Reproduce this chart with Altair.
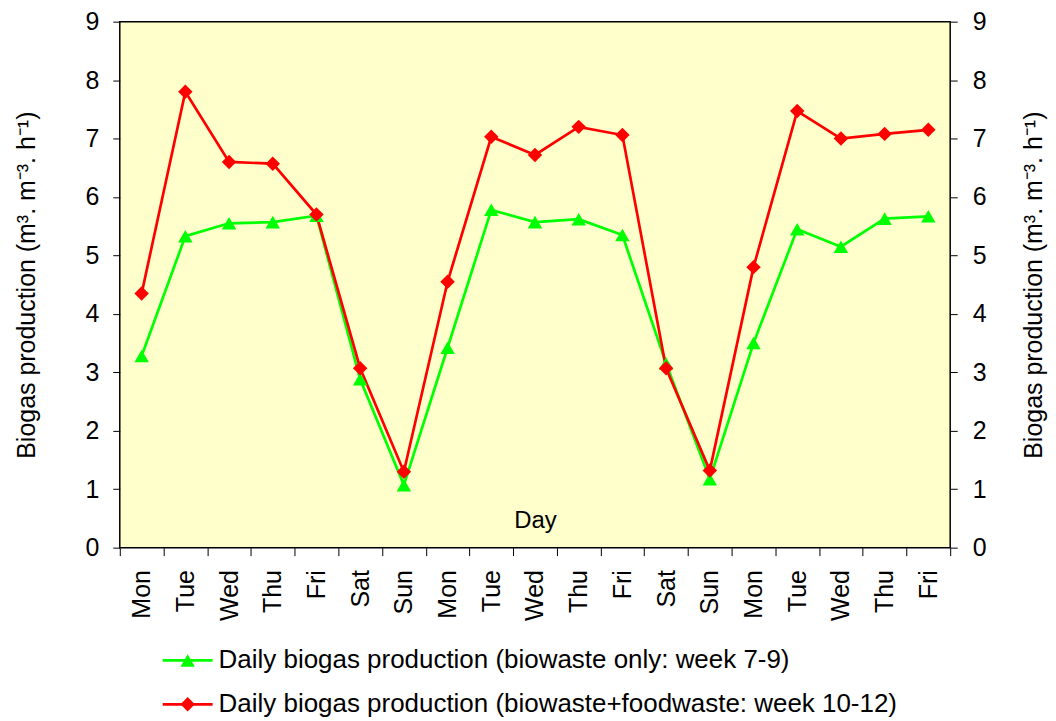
import json
import altair as alt
import pandas as pd

days = ["Mon", "Tue", "Wed", "Thu", "Fri", "Sat", "Sun",
        "Mon", "Tue", "Wed", "Thu", "Fri", "Sat", "Sun",
        "Mon", "Tue", "Wed", "Thu", "Fri"]
bio_only = [3.28, 5.33, 5.55, 5.57, 5.68, 2.88, 1.07,
            3.42, 5.78, 5.57, 5.62, 5.35, 3.15, 1.17,
            3.50, 5.45, 5.15, 5.63, 5.67]
bio_food = [4.35, 7.80, 6.60, 6.57, 5.70, 3.07, 1.30,
            4.55, 7.03, 6.72, 7.20, 7.06, 3.07, 1.32,
            4.80, 7.47, 7.00, 7.08, 7.15]
series_names = ["Daily biogas production (biowaste only: week 7-9)",
                "Daily biogas production (biowaste+foodwaste: week 10-12)"]
colors = ["#00FF00", "#FF0000"]
shapes = ["triangle-up", "diamond"]
y_ticks = list(range(10))

rows = []
for i, d in enumerate(days):
    rows.append({"idx": i, "day": d, "series": series_names[0], "value": bio_only[i]})
    rows.append({"idx": i, "day": d, "series": series_names[1], "value": bio_food[i]})
df = pd.DataFrame(rows)

FONT = "Liberation Sans"
FS = 25
label_expr = json.dumps(days) + "[datum.value]"
y_title = "Biogas production (m\u00b3. m\u207b\u00b3. h\u207b\u00b9)"

color = alt.Color("series:N", scale=alt.Scale(domain=series_names, range=colors), legend=None)
shape = alt.Shape("series:N", scale=alt.Scale(domain=series_names, range=shapes), legend=None)

x = alt.X("idx:O",
          scale=alt.Scale(type="band", paddingInner=0, paddingOuter=0),
          axis=alt.Axis(title="Day", labelExpr=label_expr, labelAngle=270,
                        tickBand="extent", tickSize=8, tickColor="black",
                        domain=False, labelPadding=14, labelFontSize=FS,
                        titleFontSize=24, titleFontWeight="normal",
                        titleY=-20, titleBaseline="alphabetic"))

y_left = alt.Y("value:Q", scale=alt.Scale(domain=[0, 9], nice=False),
               axis=alt.Axis(title=y_title, values=y_ticks, orient="left",
                             tickSize=7, tickColor="black", domain=False,
                             labelFontSize=FS, titleFontSize=FS,
                             titleFontWeight="normal", titlePadding=46,
                             labelPadding=14, grid=False))
y_right = alt.Y("value:Q", scale=alt.Scale(domain=[0, 9], nice=False),
                axis=alt.Axis(title=y_title, values=y_ticks, orient="right",
                              tickSize=7, tickColor="black", domain=False,
                              labelFontSize=FS, titleFontSize=FS,
                              titleFontWeight="normal", titlePadding=36,
                              titleAngle=270, titleBaseline="top",
                              labelPadding=15, grid=False))

base = alt.Chart(df)
lines = base.mark_line(strokeWidth=2.7).encode(x=x, y=y_left, color=color, detail="series:N")
points = base.mark_point(filled=True, opacity=1, size=210).encode(
    x=x, y=y_right, color=color, shape=shape)

main = alt.layer(lines, points).resolve_scale(y="independent").properties(
    width=832, height=527,
    view=alt.ViewBackground(fill="#FFFFCC", stroke="black", strokeWidth=1.5))

leg_df = pd.DataFrame({"series": series_names})
leg_y = alt.Y("series:N", sort=series_names, axis=None,
              scale=alt.Scale(type="point", padding=0.5))
leg_base = alt.Chart(leg_df)
leg_rule = leg_base.mark_rule(strokeWidth=2.7).encode(
    x=alt.value(43), x2=alt.value(93), y=leg_y, color=color)
leg_pt = leg_base.mark_point(filled=True, opacity=1, size=210).encode(
    x=alt.value(68), y=leg_y, color=color, shape=shape)
leg_txt = leg_base.mark_text(align="left", baseline="middle", fontSize=26,
                             font=FONT).encode(
    x=alt.value(99), y=leg_y, text="series:N")
legend = alt.layer(leg_rule, leg_pt, leg_txt).properties(
    width=832, height=88,
    view=alt.ViewBackground(stroke="transparent"))

chart = alt.vconcat(main, legend, spacing=16).configure(
    font=FONT
).configure_axis(
    labelFont=FONT, titleFont=FONT, labelColor="black", titleColor="black"
).properties(background="white", padding={"left": 5, "top": 0, "right": 0, "bottom": 0})

chart.save("out.html", embed_options={"renderer": "svg", "actions": False})
